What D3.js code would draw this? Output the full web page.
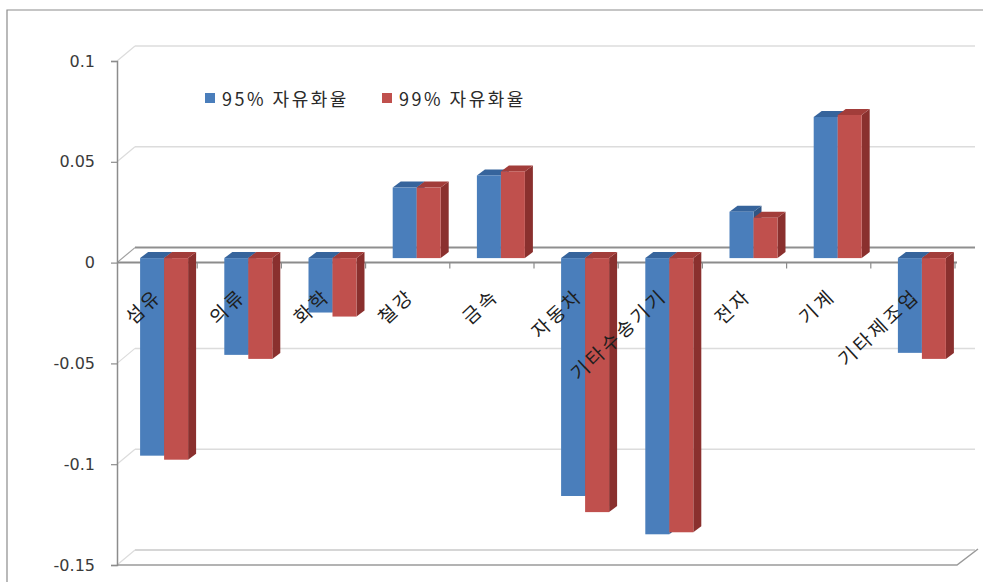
<!DOCTYPE html>
<html>
<head>
<meta charset="utf-8">
<script src="https://cdn.jsdelivr.net/npm/d3@7"></script>
<style>
  body { margin: 0; background: #fff; }
  svg { display: block; }
</style>
</head>
<body>
<script>
// Industry categories and the two liberalisation-rate series
const categories = ["섬유", "의류", "화학", "철강", "금속", "자동차", "기타수송기기", "전자", "기계", "기타제조업"];
const series95 = [-0.098, -0.048, -0.027, 0.035, 0.041, -0.118, -0.137, 0.023, 0.070, -0.047];
const series99 = [-0.100, -0.050, -0.029, 0.035, 0.043, -0.126, -0.136, 0.020, 0.071, -0.050];
const seriesNames = ["95% 자유화율", "99% 자유화율"];
const yTicks = [0.1, 0.05, 0, -0.05, -0.1, -0.15];
const yTickLabels = ["0.1", "0.05", "0", "-0.05", "-0.1", "-0.15"];

const W = 983, H = 582;
const svg = d3.select("body").append("svg").attr("width", W).attr("height", H);

// Oblique 3D geometry: front plane, back wall offset, bar depth
const axisX = 117;
const wallDX = 18, wallDY = -15;       // front -> back wall offset
const barShiftX = 9, barShiftY = -4.5;  // bar front face sits slightly inside
const barW = 24, barDX = 8, barDY = -6; // bar width and its depth

const y = d3.scaleLinear().domain([-0.15, 0.1]).range([565, 61]);
const x = d3.scaleBand().domain(categories).range([113, 955]);
const xEnd = 957;

const palette = [
  { front: "#4a7ebb", top: "#36649c", side: "#2f5583" },
  { front: "#c0504d", top: "#a23d3a", side: "#8a302e" }
];
const numFont = "'DejaVu Sans', Verdana, sans-serif";
const korFont = "'Noto Sans CJK KR', 'Noto Sans', sans-serif";

// Chart area outline
svg.append("path")
  .attr("d", `M7,${H} L7,10 L${W},10`)
  .attr("fill", "none").attr("stroke", "#8c8c8c").attr("stroke-width", 1.2);

// Back wall and side wall gridlines
const grid = svg.append("g");
yTicks.forEach(t => {
  const yy = y(t);
  const isZero = t === 0;
  const isFloor = t === -0.15;
  const col = isZero ? "#8f8f8f" : "#dcdcdc";
  grid.append("line")
    .attr("x1", axisX + wallDX).attr("x2", xEnd + wallDX)
    .attr("y1", yy + wallDY).attr("y2", yy + wallDY)
    .attr("stroke", isFloor ? "#c8c8c8" : col).attr("stroke-width", isZero ? 2 : 1.5);
  grid.append("line")
    .attr("x1", axisX).attr("x2", axisX + wallDX)
    .attr("y1", yy).attr("y2", yy + wallDY)
    .attr("stroke", isZero ? "#a0a0a0" : "#dcdcdc").attr("stroke-width", 1.2);
});

// Floor front edge and right edge
svg.append("path")
  .attr("d", `M${axisX},${y(-0.15)} L${xEnd},${y(-0.15)} L${xEnd + wallDX + 3},${y(-0.15) + wallDY - 1}`)
  .attr("fill", "none").attr("stroke", "#9a9a9a").attr("stroke-width", 1.5);

// Value axis
const yAxis = d3.axisLeft(y)
  .tickValues(yTicks)
  .tickFormat((d, i) => yTickLabels[i])
  .tickSize(6).tickPadding(16);
const gy = svg.append("g").attr("transform", `translate(${axisX},0)`).call(yAxis);
gy.select(".domain").attr("stroke", "#8c8c8c").attr("stroke-width", 1.5);
gy.selectAll(".tick line").attr("stroke", "#8c8c8c").attr("stroke-width", 1.2);
gy.selectAll(".tick text")
  .attr("font-family", numFont).attr("font-size", 16).attr("fill", "#3a3a3a");

// Category axis line at zero with boundary ticks
const y0 = y(0);
svg.append("line")
  .attr("x1", axisX).attr("x2", xEnd).attr("y1", y0).attr("y2", y0)
  .attr("stroke", "#8c8c8c").attr("stroke-width", 2);
categories.forEach(c => {
  const bx = x(c) + x.bandwidth();
  svg.append("line")
    .attr("x1", bx).attr("x2", bx).attr("y1", y0).attr("y2", y0 + 6)
    .attr("stroke", "#8c8c8c").attr("stroke-width", 1.2);
});

// 3D bars
const bars = svg.append("g");
const by = v => y(v) + barShiftY;
categories.forEach((c, i) => {
  const cx = x(c) + x.bandwidth() / 2 + barShiftX;
  [series95[i], series99[i]].forEach((v, s) => {
    const p = palette[s];
    const x0 = cx - barW + s * barW;
    const x1 = x0 + barW;
    const yTop = Math.min(by(v), by(0));
    const yBot = Math.max(by(v), by(0));
    // side face
    bars.append("path")
      .attr("d", `M${x1},${yTop} L${x1 + barDX},${yTop + barDY} L${x1 + barDX},${yBot + barDY} L${x1},${yBot} Z`)
      .attr("fill", p.side);
    // top face
    bars.append("path")
      .attr("d", `M${x0},${yTop} L${x0 + barDX},${yTop + barDY} L${x1 + barDX},${yTop + barDY} L${x1},${yTop} Z`)
      .attr("fill", p.top);
    // front face
    bars.append("rect")
      .attr("x", x0).attr("y", yTop).attr("width", barW).attr("height", yBot - yTop)
      .attr("fill", p.front);
  });
});

// Category labels, slanted
categories.forEach(c => {
  const cx = x(c) + x.bandwidth() / 2;
  svg.append("text")
    .attr("transform", `translate(${cx + 8},${y0 + 35}) rotate(-43)`)
    .attr("text-anchor", "end")
    .attr("font-family", korFont).attr("font-size", 19)
    .attr("letter-spacing", 3)
    .attr("fill", "#1e1e1e")
    .text(c);
});

// Legend
const legendX = [205, 382];
seriesNames.forEach((name, s) => {
  svg.append("rect")
    .attr("x", legendX[s]).attr("y", 93).attr("width", 10).attr("height", 10)
    .attr("fill", palette[s].front);
  svg.append("text")
    .attr("x", legendX[s] + 17).attr("y", 98)
    .attr("dominant-baseline", "central")
    .attr("font-family", korFont).attr("font-size", 18)
    .attr("letter-spacing", 2.5)
    .attr("fill", "#2a2a2a")
    .text(name);
});
</script>
</body>
</html>
